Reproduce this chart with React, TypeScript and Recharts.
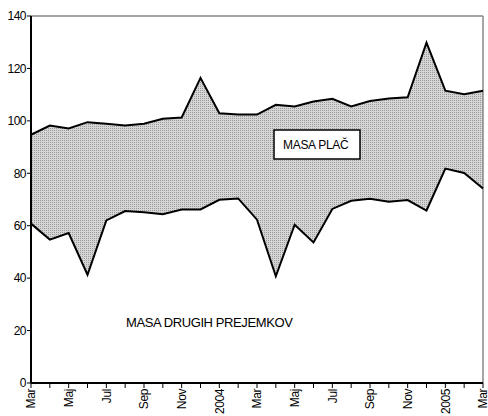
import { ComposedChart, Area, Line, XAxis, YAxis, ReferenceLine } from 'recharts';

// monthly, Mar 2003 .. Mar 2005
const months = [
  'Mar', '', 'Maj', '', 'Jul', '', 'Sep', '', 'Nov', '', '2004', '', 'Mar',
  '', 'Maj', '', 'Jul', '', 'Sep', '', 'Nov', '', '2005', '', 'Mar',
];

// upper edge: total
const total = [
  94.7, 98.2, 97.1, 99.5, 98.9, 98.2, 98.9, 100.8, 101.3, 116.4, 102.9, 102.4, 102.4,
  106.1, 105.5, 107.4, 108.4, 105.5, 107.6, 108.5, 109.0, 129.8, 111.5, 110.2, 111.5,
];

// lower edge: other receipts
const other = [
  60.8, 54.7, 57.2, 41.3, 62.0, 65.6, 65.1, 64.4, 66.2, 66.2, 69.9, 70.4, 62.3,
  40.7, 60.4, 53.6, 66.4, 69.5, 70.3, 69.1, 69.8, 65.8, 81.8, 80.1, 74.2,
];

const yTicks = [0, 20, 40, 60, 80, 100, 120, 140];

const data = months.map((m, i) => ({
  i,
  month: m,
  low: other[i],
  high: total[i],
  range: [other[i], total[i]],
}));

const FONT = '"Liberation Sans", Arial, sans-serif';

function MonthTick({ x, y, payload }: any) {
  const label = months[payload.value];
  if (!label) return null;
  return (
    <g transform={`translate(${x},${y - 1}) rotate(-90)`}>
      <text textAnchor="end" dy="0.35em" fontSize={12} letterSpacing={-0.4} fontFamily={FONT} fill="#000">
        {label}
      </text>
    </g>
  );
}

export default function App() {
  return (
    <div style={{ position: 'absolute', left: 0, top: 0, width: 488, height: 416, background: '#fff' }}>
      <ComposedChart width={488} height={416} data={data} margin={{ top: 16, right: 5, left: 0, bottom: 1 }}>
        <defs>
          <pattern id="dots" width={2} height={2} patternUnits="userSpaceOnUse">
            <rect width={2} height={2} fill="#d6d6d6" />
            <rect x={0} y={0} width={1} height={1} fill="#9a9a9a" />
          </pattern>
        </defs>
        <XAxis
          dataKey="i"
          type="number"
          domain={[0, 24]}
          ticks={data.map((d) => d.i)}
          interval={0}
          height={32}
          tick={<MonthTick />}
          tickSize={5}
          axisLine={{ stroke: '#000', strokeWidth: 2 }}
          tickLine={{ stroke: '#000', strokeWidth: 1 }}
        />
        <YAxis
          type="number"
          domain={[0, 140]}
          ticks={yTicks}
          width={31}
          tickSize={4}
          tickMargin={1}
          tick={{ fontSize: 12, fontFamily: FONT, fill: '#000', letterSpacing: -0.5 }}
          axisLine={{ stroke: '#000', strokeWidth: 2 }}
          tickLine={{ stroke: '#000', strokeWidth: 1 }}
        />
        <ReferenceLine y={140} stroke="#888" strokeWidth={1.5} />
        <ReferenceLine x={24} stroke="#888" strokeWidth={1.5} />
        <Area
          dataKey="range"
          type="linear"
          fill="url(#dots)"
          fillOpacity={1}
          stroke="none"
          isAnimationActive={false}
        />
        <Line dataKey="high" type="linear" stroke="#000" strokeWidth={2} dot={false} isAnimationActive={false} />
        <Line dataKey="low" type="linear" stroke="#000" strokeWidth={2} dot={false} isAnimationActive={false} />
      </ComposedChart>
      <svg width={488} height={416} style={{ position: 'absolute', left: 0, top: 0, pointerEvents: 'none' }}>
        <rect x={274} y={130} width={86} height={29} fill="#fff" stroke="#000" strokeWidth={1.5} />
        <text x={283} y={149} fontSize={12} fontFamily={FONT} letterSpacing={-0.3} fill="#000">
          MASA PLAČ
        </text>
        <text x={126} y={327} fontSize={13} fontFamily={FONT} letterSpacing={-0.4} fill="#000">
          MASA DRUGIH PREJEMKOV
        </text>
      </svg>
    </div>
  );
}
